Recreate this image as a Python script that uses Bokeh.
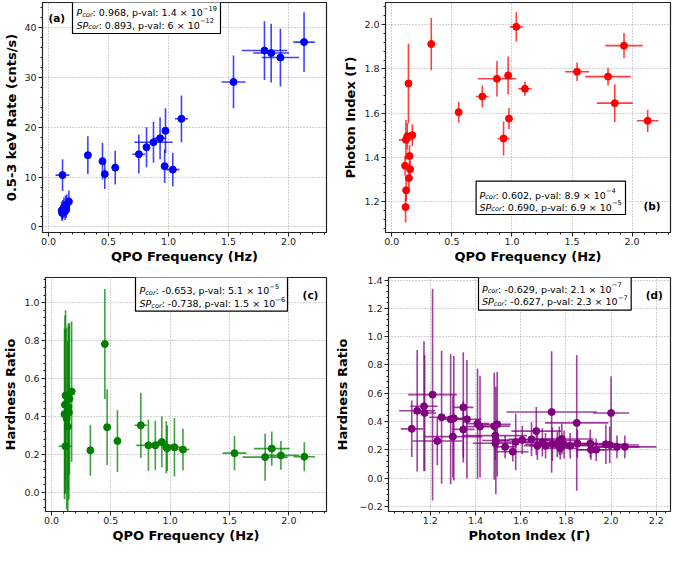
import numpy as np
from bokeh.plotting import figure
from bokeh.models import (ColumnDataSource, Label, BoxAnnotation, FixedTicker,
                          CustomJSTickFormatter, Range1d)
from bokeh.layouts import column, row
from bokeh.embed import file_html
from bokeh.resources import INLINE

nan = float("nan")

# ---------------- data ----------------
qpo_freq = [0.117, 0.110, 0.114, 0.119, 0.128, 0.138, 0.142, 0.147, 0.152, 0.170,
            0.328, 0.450, 0.469, 0.556, 0.753, 0.817, 0.875, 0.930, 0.968, 0.975,
            1.036, 1.108, 1.542, 1.800, 1.856, 1.933, 2.130]
qpo_freq_err = [0.058, 0.010, 0.010, 0.010, 0.010, 0.010, 0.010, 0.010, 0.010, 0.010,
                0.012, 0.010, 0.010, 0.012, 0.053, 0.015, 0.160, 0.050, 0.015, 0.020,
                0.055, 0.055, 0.100, 0.190, 0.150, 0.155, 0.090]
rate = [10.4, 3.3, 2.8, 3.5, 3.9, 3.1, 4.2, 3.6, 4.5, 5.1,
        14.4, 13.2, 10.6, 11.9, 14.6, 16.0, 17.0, 17.8, 12.2, 19.3,
        11.5, 21.7, 29.1, 35.4, 34.9, 34.0, 37.1]
rate_err = [3.2, 1.8, 1.6, 1.9, 2.0, 1.7, 2.1, 1.8, 2.0, 2.2,
            3.8, 3.7, 3.0, 3.4, 3.9, 4.0, 4.1, 4.2, 3.4, 4.5,
            3.4, 4.7, 5.3, 5.9, 5.9, 5.8, 6.0]
gamma = [1.479, 1.362, 1.175, 1.251, 1.495, 1.734, 1.306, 1.406, 1.346, 1.500,
         1.912, nan, nan, 1.604, 1.675, nan, 1.755, 1.485, 1.770, 1.575,
         1.990, 1.710, 1.787, 1.765, 1.645, 1.905, 1.565]
gamma_err = [0.090, 0.045, 0.070, 0.050, 0.060, 0.180, 0.050, 0.050, 0.040, 0.050,
             0.118, nan, nan, 0.047, 0.050, nan, 0.080, 0.077, 0.086, 0.048,
             0.066, 0.032, 0.042, 0.040, 0.085, 0.057, 0.050]
hardness = [0.242, 0.412, 0.462, 0.510, 0.389, 0.346, 0.450, 0.420, 0.493, 0.531,
            0.221, 0.782, 0.343, 0.270, 0.353, 0.247, 0.247, 0.265, 0.237, 0.232,
            0.237, 0.225, 0.206, 0.185, 0.230, 0.194, 0.187]
hardness_err = [0.25, 0.45, 0.47, 0.45, 0.48, 0.45, 0.44, 0.46, 0.40, 0.37,
                0.134, 0.29, 0.20, 0.164, 0.172, 0.135, 0.13, 0.134, 0.137, 0.12,
                0.154, 0.11, 0.09, 0.125, 0.09, 0.076, 0.077]

# panel (d): hardness ratio vs photon index (all spectra)
index_d = [1.118, 1.142, 1.172, 1.175, 1.210, 1.231, 1.250, 1.290, 1.300, 1.304,
           1.346, 1.346, 1.362, 1.409, 1.420, 1.483, 1.488, 1.488, 1.490, 1.496,
           1.531, 1.565, 1.578, 1.607, 1.648, 1.669, 1.674, 1.696, 1.710, 1.737,
           1.740, 1.762, 1.771, 1.775, 1.782, 1.792, 1.819, 1.848, 1.851, 1.908,
           1.911, 1.934, 1.977, 1.994, 2.000, 2.026, 2.061]
index_d_err = [0.049, 0.080, 0.060, 0.050, 0.108, 0.110, 0.055, 0.050, 0.130, 0.060,
               0.045, 0.050, 0.065, 0.050, 0.065, 0.070, 0.140, 0.100, 0.060, 0.060,
               0.050, 0.070, 0.080, 0.120, 0.100, 0.110, 0.060, 0.090, 0.070, 0.200,
               0.120, 0.100, 0.090, 0.080, 0.140, 0.080, 0.100, 0.140, 0.090, 0.120,
               0.060, 0.090, 0.100, 0.130, 0.080, 0.100, 0.140]
hr_d = [0.348, 0.476, 0.508, 0.460, 0.590, 0.262, 0.430, 0.416, 0.293, 0.423,
        0.500, 0.344, 0.416, 0.385, 0.364, 0.367, 0.300, 0.246, 0.265, 0.380,
        0.220, 0.186, 0.255, 0.269, 0.274, 0.332, 0.228, 0.253, 0.228, 0.467,
        0.240, 0.237, 0.265, 0.211, 0.276, 0.237, 0.228, 0.390, 0.244, 0.244,
        0.200, 0.200, 0.239, 0.234, 0.460, 0.220, 0.220]
hr_d_err = [0.20, 0.43, 0.46, 0.41, 0.75, 0.17, 0.47, 0.46, 0.29, 0.44,
            0.39, 0.20, 0.42, 0.39, 0.36, 0.38, 0.10, 0.12, 0.38, 0.37,
            0.08, 0.07, 0.20, 0.10, 0.12, 0.17, 0.10, 0.10, 0.09, 0.43,
            0.12, 0.09, 0.10, 0.08, 0.11, 0.10, 0.09, 0.48, 0.10, 0.10,
            0.07, 0.08, 0.14, 0.13, 0.26, 0.08, 0.08]

# ---------------- helpers ----------------
FONT = "DejaVu Sans"
W = {' ': .318, '.': .318, ',': .318, ':': .337, '-': .361, 'p': .635, 'v': .592,
     'a': .613, 'l': .278, '\u00d7': .838, '\u2212': .838, 'P': .603, 'S': .635,
     'c': .550, 'o': .612, 'r': .411}


def tw(s, size):
    return sum(W.get(ch, .636) for ch in s) * size


def minus_fmt(nd):
    return CustomJSTickFormatter(code=f"return tick.toFixed({nd}).replace('-', '\\u2212')")


def make_fig(w, h, borders, xr, yr, xt, yt, xm, ym, xlabel, ylabel, xnd, ynd, ylstand):
    p = figure(width=w, height=h, output_backend="svg", toolbar_location=None,
               x_range=Range1d(*xr), y_range=Range1d(*yr),
               min_border_left=borders[0], min_border_right=borders[1],
               min_border_top=borders[2], min_border_bottom=borders[3])
    p.background_fill_color = "white"
    p.border_fill_color = "white"
    p.outline_line_color = "#222222"
    p.outline_line_width = 1.2
    p.xaxis.ticker = FixedTicker(ticks=xt, minor_ticks=xm)
    p.yaxis.ticker = FixedTicker(ticks=yt, minor_ticks=ym)
    p.xaxis.formatter = minus_fmt(xnd)
    p.yaxis.formatter = minus_fmt(ynd)
    p.xaxis.axis_label = xlabel
    p.yaxis.axis_label = ylabel
    for ax in (p.xaxis[0], p.yaxis[0]):
        ax.major_label_text_font = FONT
        ax.major_label_text_font_size = "9.5px"
        ax.major_label_text_color = "#222222"
        ax.axis_label_text_font = FONT
        ax.axis_label_text_font_style = "bold"
        ax.axis_label_text_font_size = "13px"
        ax.axis_label_text_color = "black"
        ax.major_tick_in = 0
        ax.major_tick_out = 4
        ax.minor_tick_in = 0
        ax.minor_tick_out = 2
        ax.axis_line_color = "#222222"
        ax.major_tick_line_color = "#222222"
        ax.minor_tick_line_color = "#222222"
        ax.major_label_standoff = 2
    p.xaxis.major_label_standoff = 1
    p.xaxis.axis_label_standoff = 1
    p.yaxis.axis_label_standoff = ylstand
    p.grid.grid_line_color = "#9a9a9a"
    p.grid.grid_line_dash = "1 2"
    p.grid.grid_line_width = 0.9
    return p


def errplot(p, x, y, xe, ye, color):
    x = np.asarray(x, float); y = np.asarray(y, float)
    xe = np.asarray(xe, float); ye = np.asarray(ye, float)
    src = ColumnDataSource(dict(x=x, y=y, xl=x - xe, xh=x + xe, yl=y - ye, yh=y + ye))
    p.segment(x0="xl", y0="y", x1="xh", y1="y", source=src, line_color=color,
              line_alpha=0.75, line_width=1.6)
    p.segment(x0="x", y0="yl", x1="x", y1="yh", source=src, line_color=color,
              line_alpha=0.75, line_width=1.6)
    p.scatter(x="x", y="y", source=src, size=7, fill_color=color, line_color=color)


def txt(p, x, y, text, size, style="normal", align="left", baseline="alphabetic"):
    p.add_layout(Label(x=x, y=y, x_units="screen", y_units="screen", text=text,
                       text_font=FONT, text_font_size=f"{size}px",
                       text_font_style=style, text_align=align,
                       text_baseline=baseline, text_color="black"))


def stat_box(p, fh, box, x0, bases, rows):
    # box = (left, right, top, bottom) measured from the frame's top-left corner
    l, r, t, b = box
    p.add_layout(BoxAnnotation(left=l, right=r, top=fh - t, bottom=fh - b,
                               left_units="screen", right_units="screen",
                               top_units="screen", bottom_units="screen",
                               fill_color="white", fill_alpha=1.0,
                               line_color="black", line_width=1.2, line_alpha=1.0))
    F, S = 9.5, 6.6
    for base, (name, r_val, mant, expo) in zip(bases, rows):
        yb = fh - base
        x = x0
        txt(p, x, yb, name, F, "italic"); x += tw(name, F)
        txt(p, x, yb - 2.2, "cor", S, "italic"); x += tw("cor", S)
        main = f": {r_val}, p-val: {mant} \u00d7 10"
        txt(p, x, yb, main, F); x += tw(main, F)
        txt(p, x, yb + 4.2, f"\u2212{expo}", S)


# ---------------- layout ----------------
TOP_H, BOT_H = 266, 279
LW, RW = 332, 348
bA = (42, 6, 2, 30)
bB = (53, 10, 2, 30)
bC = (42, 6, 11, 30)
bD = (53, 10, 11, 30)
fhA = TOP_H - bA[2] - bA[3]
fhC = BOT_H - bC[2] - bC[3]

xt_f = [0.0, 0.5, 1.0, 1.5, 2.0]
xm_f = list(np.round(np.arange(0.0, 2.35, 0.1), 3))

pa = make_fig(LW, TOP_H, bA, (-0.05, 2.317), (-1.12, 45.05), xt_f, [0, 10, 20, 30, 40],
              xm_f, list(range(0, 46, 2)), "QPO Frequency (Hz)", "0.5-3 keV Rate (cnts/s)",
              1, 0, 2)
errplot(pa, qpo_freq, rate, qpo_freq_err, rate_err, "#0000ff")
stat_box(pa, fhA, (30, 178, 2, 35), 34, (13.8, 26.6),
         [("P", "0.968", "1.4", "19"), ("SP", "0.893", "6", "12")])
txt(pa, 14.3, fhA - 19.7, "(a)", 10.5, "bold", "center", "middle")

pb = make_fig(RW, TOP_H, bB, (-0.053, 2.32), (1.06, 2.10), xt_f,
              [1.2, 1.4, 1.6, 1.8, 2.0], xm_f, list(np.round(np.arange(1.08, 2.1, 0.04), 3)),
              "QPO Frequency (Hz)", "Photon Index (\u0393)", 1, 1, 3)
errplot(pb, qpo_freq, gamma, qpo_freq_err, gamma_err, "#ff0000")
# box near the bottom of the frame: convert "from bottom" to "from top"
stat_box(pb, fhA, (90.6, 240, fhA - 51.3, fhA - 18), 94, (fhA - 37.4, fhA - 25.4),
         [("P", "0.602", "8.9", "4"), ("SP", "0.690", "6.9", "5")])
txt(pb, 266.6, 27, "(b)", 10.5, "bold", "center", "middle")

pc = make_fig(LW, BOT_H, bC, (-0.05, 2.317), (-0.102, 1.133), xt_f,
              [0.0, 0.2, 0.4, 0.6, 0.8, 1.0], xm_f,
              list(np.round(np.arange(-0.08, 1.14, 0.04), 3)),
              "QPO Frequency (Hz)", "Hardness Ratio", 1, 1, 3)
errplot(pc, qpo_freq, hardness, qpo_freq_err, hardness_err, "#008000")
stat_box(pc, fhC, (90, 242, 1.7, 37.7), 94, (17.3, 30.0),
         [("P", "-0.653", "5.1", "5"), ("SP", "-0.738", "1.5", "6")])
txt(pc, 265, fhC - 21, "(c)", 10.5, "bold", "center", "middle")

pd_ = make_fig(RW, BOT_H, bD, (1.015, 2.263), (-0.237, 1.419),
               [1.2, 1.4, 1.6, 1.8, 2.0, 2.2], [-0.2, 0.0, 0.2, 0.4, 0.6, 0.8, 1.0, 1.2, 1.4],
               list(np.round(np.arange(1.04, 2.27, 0.04), 3)),
               list(np.round(np.arange(-0.24, 1.42, 0.04), 3)),
               "Photon Index (\u0393)", "Hardness Ratio", 1, 1, 6)
errplot(pd_, index_d, hr_d, index_d_err, hr_d_err, "#800080")
stat_box(pd_, fhC, (90, 242.7, 3.3, 36.7), 93.4, (15.6, 28.3),
         [("P", "-0.629", "2.1", "7"), ("SP", "-0.627", "2.3", "7")])
txt(pd_, 265.7, fhC - 21, "(d)", 10.5, "bold", "center", "middle")

layout = column(row(pa, pb), row(pc, pd_))

open("out.html", "w").write(file_html(layout, INLINE))
